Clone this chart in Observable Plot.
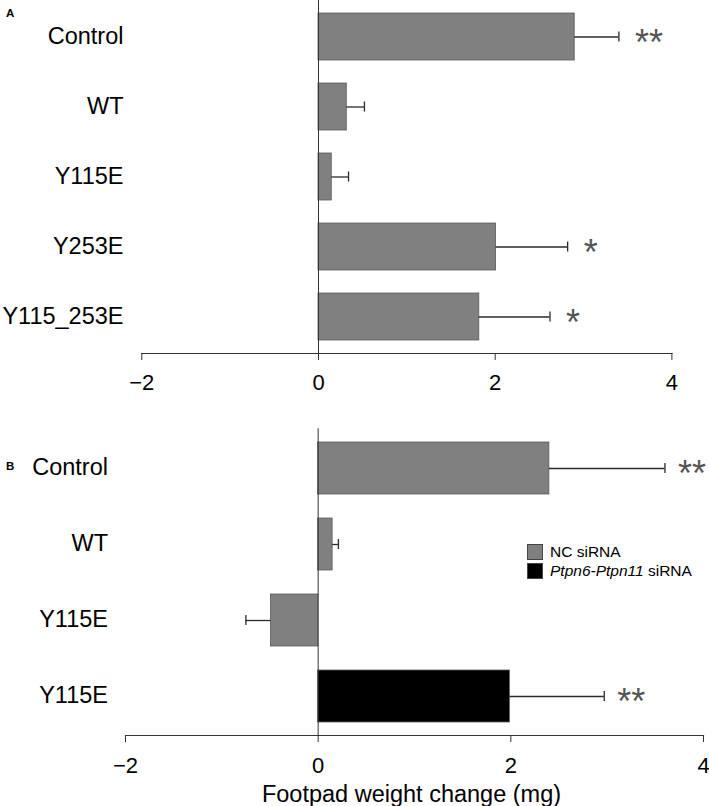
<!DOCTYPE html>
<html><head><meta charset="utf-8">
<script src="https://cdn.jsdelivr.net/npm/d3@7"></script>
<script src="https://cdn.jsdelivr.net/npm/@observablehq/plot@0.6"></script>
<style>
body{margin:0;background:#fff;font-family:"Liberation Sans",Arial,sans-serif;}
#wrap{position:relative;width:709px;height:806px;overflow:hidden;background:#fff;}
#wrap svg{display:block;}
.letter{position:absolute;font-weight:bold;font-size:11.5px;line-height:1;color:#000;}
.legend{position:absolute;left:527px;top:542px;font-size:15.5px;color:#000;}
.legend .row{display:flex;align-items:center;height:19px;}
.legend .sw{display:inline-block;width:14px;height:14px;border:1px solid #444;margin-right:7px;box-sizing:content-box;}
</style></head><body>
<div id="wrap"></div>
<script>
// Panel A data
const categoriesA = ["Control", "WT", "Y115E", "Y253E", "Y115_253E"];
const meansA = [2.9, 0.32, 0.15, 2.01, 1.82];
const errorsA = [0.5, 0.2, 0.19, 0.81, 0.8];
const starsA = ["**", "", "", "*", "*"];

// Panel B data
const categoriesB = ["Control", "WT", "Y115E", "Y115E"];
const meansB = [2.4, 0.15, -0.49, 1.99];
const errorsB = [1.2, 0.06, 0.26, 0.98];
const groupsB = ["NC siRNA", "NC siRNA", "NC siRNA", "Ptpn6-Ptpn11 siRNA"];
const starsB = ["**", "", "", "**"];

const groupNames = ["NC siRNA", "Ptpn6-Ptpn11 siRNA"];
const groupColors = ["#808080", "#000000"];
const xTicks = [-2, 0, 2, 4];
const xLabel = "Footpad weight change (mg)";

const font = '"Liberation Sans", Arial, sans-serif';

function rowsOf(cats, means, errs, stars, groups) {
  return cats.map((c, i) => ({
    i, cat: c, mean: means[i],
    end: means[i] + (means[i] < 0 ? -errs[i] : errs[i]),
    star: stars[i], group: groups ? groups[i] : groupNames[0]
  }));
}

function panel(o) {
  const rows = rowsOf(o.cats, o.means, o.errs, o.stars, o.groups);
  const marks = [
    Plot.barX(rows, {x1: 0, x2: "mean", y: "i", fill: "group", stroke: "#5a5a5a", strokeWidth: 0.8}),
    Plot.ruleY(rows, {y: "i", x1: "mean", x2: "end", stroke: "#2a2a2a", strokeWidth: 1.3}),
    Plot.tickX(rows, {x: "end", y: "i", stroke: "#2a2a2a", strokeWidth: 1.3, insetTop: o.capInset, insetBottom: o.capInset}),
    Plot.text(rows.filter(d => d.star), {x: "end", y: "i", text: "star", textAnchor: "start", dx: o.starDx, dy: 6, fontSize: 36, fill: "#555"}),
    Plot.ruleX([0], {stroke: "#333", strokeWidth: 1}),
    Plot.frame({anchor: "bottom", stroke: "#333", strokeWidth: 1.2}),
    Plot.axisX({ticks: xTicks, tickFormat: d3.format("d"), tickSize: 7, tickPadding: o.xPad, fontSize: 22, label: null, stroke: "#333"}),
    Plot.axisY({tickSize: 0, tickPadding: o.yPad, fontSize: 23.5, label: null, tickFormat: i => o.cats[i], dy: -1})
  ];
  if (o.xLabel) {
    marks.push(Plot.text([o.xLabel], {frameAnchor: "bottom", lineAnchor: "bottom", dy: 66, dx: -3, fontSize: 23.5, fill: "#000"}));
  }
  return Plot.plot({
    width: 709, height: o.height,
    marginTop: o.marginTop, marginBottom: o.marginBottom,
    marginLeft: o.marginLeft, marginRight: o.marginRight,
    style: {fontFamily: font, color: "#000", background: "#fff", overflow: "visible"},
    x: {domain: [-2, 4]},
    y: {domain: d3.range(o.cats.length), paddingInner: o.pad, paddingOuter: o.pad / 2},
    color: {domain: groupNames, range: groupColors},
    marks
  });
}

const wrap = document.getElementById("wrap");
wrap.appendChild(panel({
  cats: categoriesA, means: meansA, errs: errorsA, stars: starsA,
  height: 405, marginTop: 0, marginBottom: 52, marginLeft: 141.3, marginRight: 37.6,
  pad: 0.333, capInset: 18.5, xPad: 13.5, yPad: 18.3, starDx: 16
}));
wrap.appendChild(panel({
  cats: categoriesB, means: meansB, errs: errorsB, stars: starsB, groups: groupsB,
  height: 401, marginTop: 23.3, marginBottom: 71, marginLeft: 125, marginRight: 6,
  pad: 0.32, capInset: 21, xPad: 14.7, yPad: 17.5, starDx: 13, xLabel
}));

// panel letters
const la = document.createElement("div"); la.className = "letter"; la.textContent = "A";
la.style.left = "6px"; la.style.top = "7.5px"; wrap.appendChild(la);
const lb = document.createElement("div"); lb.className = "letter"; lb.textContent = "B";
lb.style.left = "6px"; lb.style.top = "461px"; wrap.appendChild(lb);

// legend
const leg = document.createElement("div"); leg.className = "legend";
groupNames.forEach((g, k) => {
  const row = document.createElement("div"); row.className = "row";
  const sw = document.createElement("span"); sw.className = "sw"; sw.style.background = groupColors[k];
  row.appendChild(sw);
  const m = g.match(/^(Ptpn\S+)\s(.*)$/);
  if (m) {
    const it = document.createElement("i"); it.textContent = m[1];
    row.appendChild(it); row.appendChild(document.createTextNode("\u00a0" + m[2]));
  } else row.appendChild(document.createTextNode(g));
  leg.appendChild(row);
});
wrap.appendChild(leg);
</script>
</body></html>
